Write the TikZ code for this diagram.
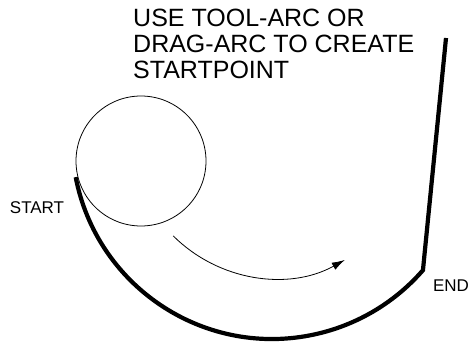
\documentclass[tikz,border=0pt]{standalone}
\usepackage{fontspec}
\setmainfont{Liberation Sans}
\usetikzlibrary{arrows.meta, positioning}

\begin{document}
\begin{tikzpicture}[
                    x=1pt, y=1pt,
                    thinline/.style={draw, line width=0.8pt},
                    thickline/.style={draw, line width=4.2pt, line join=miter},
                    tag/.style={inner sep=0pt, font=\fontsize{17}{19}\selectfont},
                    note/.style={inner sep=0pt, align=left, font=\fontsize{25}{26}\selectfont}
                ]
                    \useasboundingbox (0,0) rectangle (471,343);

                    % Place nodes
                    \node [note, anchor=north west] (hint) at (133,334) {USE TOOL-ARC OR\\DRAG-ARC TO CREATE\\STARTPOINT};
                    \node [tag] (startlabel) at (37,135) {START};
                    \node [tag] (endlabel) at (451,57) {END};
                    \coordinate (centre) at (141,182);
                    \coordinate (start) at ([shift={(272,204)}]191:200);
                    \coordinate (top) at (446,305);
                    \coordinate (sweep) at ([shift={(275,209)}]225:144);

                    % Draw shapes
                    \draw [thinline] (centre) circle[radius=65];
                    \path [thickline] (start) arc[start angle=191, end angle=319, radius=200] coordinate (end) -- (top);
                    \path [thinline, -{Latex[length=13pt, width=8pt]}] (sweep) arc[start angle=225, end angle=299, radius=144];
            \end{tikzpicture}
\end{document}
